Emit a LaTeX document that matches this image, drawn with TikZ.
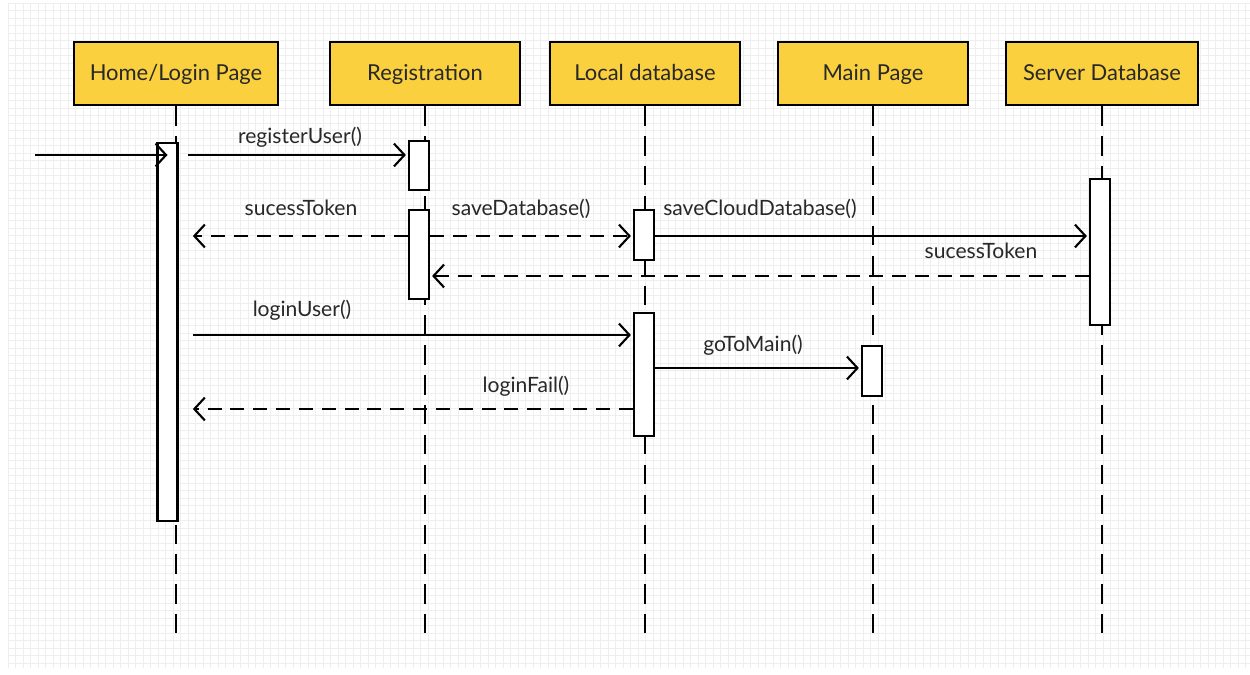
\documentclass[tikz,border=0pt]{standalone}
\usepackage{fontspec}
\setmainfont{Lato}
\usetikzlibrary{arrows.meta,positioning}
\definecolor{headyellow}{RGB}{250,208,62}
\definecolor{labelgray}{RGB}{40,40,40}
\definecolor{gridgray}{RGB}{238,238,238}

\tikzset{
  header/.style={draw, line width=1.6pt, fill=headyellow, minimum width=3.8cm, minimum height=1.26cm, inner sep=0pt, text height=2ex, text depth=0.45ex, font=\fontsize{12.5}{14}\selectfont, text=labelgray},
  lifeline/.style={line width=1.3pt, dash pattern=on 11pt off 6pt},
  act/.style={draw, line width=1.5pt, fill=white, minimum width=0.4cm, inner sep=0pt},
  call/.style={line width=1.2pt, -{Straight Barb[length=6pt,width=13pt,line width=1.2pt]}},
  reply/.style={call, dash pattern=on 8pt off 5pt},
  msglabel/.style={font=\fontsize{12}{14}\selectfont, text=labelgray, inner sep=0pt},
  gridline/.style={gridgray, line width=0.4pt}
}

\begin{document}
\begin{tikzpicture}[x=0.02cm, y=-0.02cm]
	\useasboundingbox (0,0) rectangle (1250,675);
	%background grid
	\fill[white] (0,0) rectangle (1250,675);
	\foreach \gx in {8,15.5,...,1250}{
		\draw[gridline] (\gx,3) -- (\gx,668);
	}
	\foreach \gy in {3,10.5,...,668}{
		\draw[gridline] (8,\gy) -- (1250,\gy);
	}

	%headers
	\node[header, minimum width=4.08cm] (home) at (176,73.5) {Home/Login Page};
	\node[header] (reg) at (425,73.5) {Registration};
	\node[header] (local) at (645,73.5) {Local database};
	\node[header] (main) at (873,73.5) {Main Page};
	\node[header, minimum width=3.84cm] (server) at (1102,73.5) {Server Database};

	%lifelines
	\foreach \obj in {home, reg, local, main, server}{
		\coordinate (\obj end) at ([yshift=-10.65cm]\obj.south);
		\draw[lifeline] (\obj.south) -- (\obj end);
	}

	%activations
	\node[act, minimum height=7.56cm] (home act) at (167.5,332) {};
	\node[act, minimum height=0.98cm] (reg act1) at (419,165.5) {};
	\node[act, minimum height=1.78cm] (reg act2) at (419,254.5) {};
	\node[act, minimum height=1cm] (local act1) at (644,235) {};
	\node[act, minimum height=2.46cm] (local act2) at (644,374.5) {};
	\node[act, minimum height=1cm] (main act) at (872,371) {};
	\node[act, minimum height=2.92cm] (server act) at (1100,252) {};

	%message levels
	\coordinate (start) at (35,155);
	\coordinate (m1) at (0,155);
	\coordinate (m2) at (0,236);
	\coordinate (m3) at (0,276);
	\coordinate (m4) at (0,335);
	\coordinate (m5) at (0,368);
	\coordinate (m6) at (0,409);

	%messages
	\draw[call] (start) -- (home act.center |- m1);
	\draw[call, shorten <=5pt, shorten >=1pt] (home act.east |- m1) -- (reg act1.west |- m1);
	\draw[reply, shorten >=8pt] (reg act2.west |- m2) -- (home act.east |- m2);
	\draw[reply, shorten >=1pt] (reg act2.east |- m2) -- (local act1.west |- m2);
	\draw[call, shorten >=1pt] (local act1.east |- m2) -- (server act.west |- m2);
	\draw[reply, shorten >=1pt] (server act.west |- m3) -- (reg act2.east |- m3);
	\draw[call, shorten <=8pt, shorten >=1pt] (home act.east |- m4) -- (local act2.west |- m4);
	\draw[call, shorten >=1pt] (local act2.east |- m5) -- (main act.west |- m5);
	\draw[reply, shorten >=8pt] (local act2.west |- m6) -- (home act.east |- m6);

	%message labels
	\node[msglabel] (lbl register) at (300,137) {registerUser()};
	\node[msglabel] (lbl token1) at (301,208) {sucessToken};
	\node[msglabel] (lbl save) at (521,209) {saveDatabase()};
	\node[msglabel] (lbl cloud) at (760,209) {saveCloudDatabase()};
	\node[msglabel] (lbl token2) at (981,251) {sucessToken};
	\node[msglabel] (lbl login) at (302,310) {loginUser()};
	\node[msglabel] (lbl main) at (753,345) {goToMain()};
	\node[msglabel] (lbl fail) at (526,386) {loginFail()};
\end{tikzpicture}
\end{document}
